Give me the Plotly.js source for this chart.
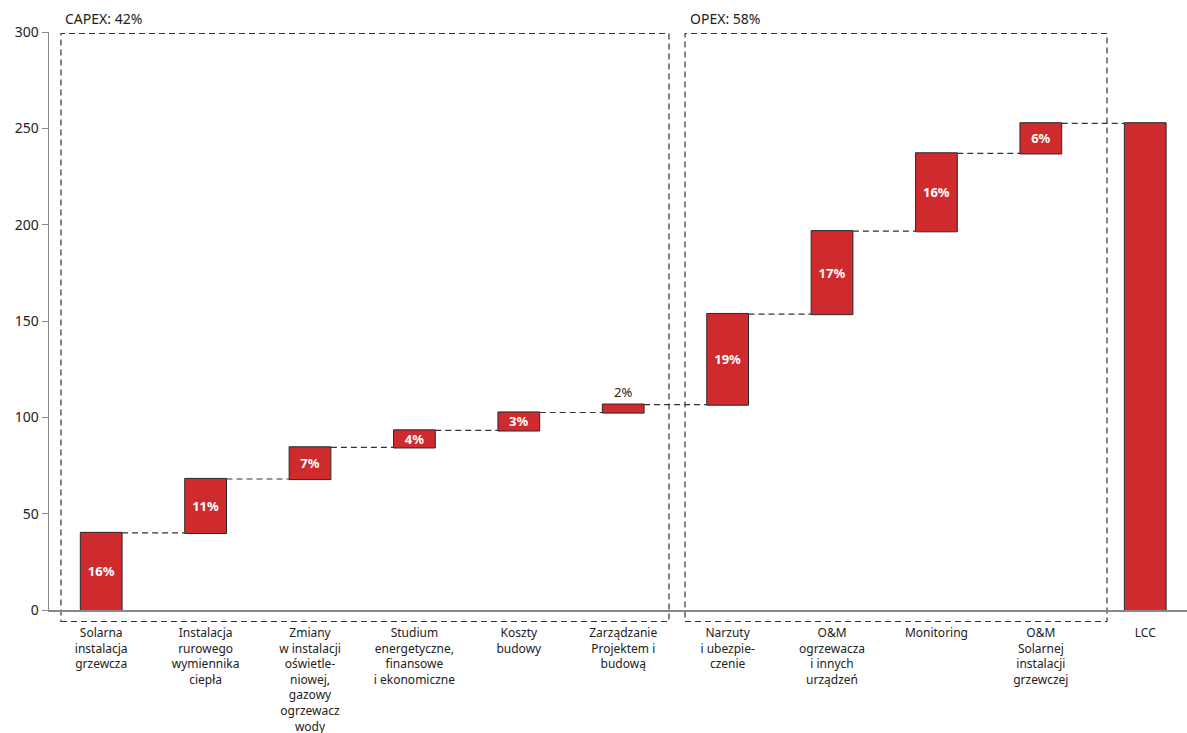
<!DOCTYPE html>
<html><head><meta charset="utf-8">
<script src="https://cdn.plot.ly/plotly-3.0.1.min.js"></script>
<style>body{margin:0;background:#fff}#chart{width:1187px;height:733px}</style>
</head><body><div id="chart"></div>
<script>
const categories = [
  'Solarna<br>instalacja<br>grzewcza',
  'Instalacja<br>rurowego<br>wymiennika<br>ciepła',
  'Zmiany<br>w instalacji<br>oświetle-<br>niowej,<br>gazowy<br>ogrzewacz<br>wody',
  'Studium<br>energetyczne,<br>finansowe<br>i ekonomiczne',
  'Koszty<br>budowy',
  'Zarządzanie<br>Projektem i<br>budową',
  'Narzuty<br>i ubezpie-<br>czenie',
  'O&M<br>ogrzewacza<br>i innych<br>urządzeń',
  'Monitoring',
  'O&M<br>Solarnej<br>instalacji<br>grzewczej',
  'LCC'
];
const values = [40, 28, 16.4, 8.8, 9.3, 4.1, 47, 43, 40.4, 15.6, 0];
const measures = ['relative','relative','relative','relative','relative','relative','relative','relative','relative','relative','total'];
const labels = ['16%','11%','7%','4%','3%','2%','19%','17%','16%','6%',''];
const labelPos = ['inside','inside','inside','inside','inside','outside','inside','inside','inside','inside','none'];
const groupTitles = ['CAPEX: 42%', 'OPEX: 58%'];

const font = 'Noto Sans, Open Sans, sans-serif';
const red = '#cf2a2e';
const edge = '#2a2a2a';

const trace = {
  type: 'waterfall',
  x: categories.map((c,i)=>i),
  y: values,
  measure: measures,
  text: labels,
  textposition: labelPos,
  insidetextfont: {color:'#ffffff', size:13, family:font, weight:'bold'},
  outsidetextfont: {color:'#222', size:13, family:font},
  constraintext: 'none',
  insidetextanchor: 'middle',
  width: 0.4,
  increasing: {marker: {color: red, line: {color: edge, width: 1}}},
  totals: {marker: {color: red, line: {color: edge, width: 1}}},
  connector: {mode: 'between', line: {color: '#333', width: 1.2, dash: '6px,4px'}},
  hoverinfo: 'skip',
  cliponaxis: false
};

const dash = {color:'#333', width:1.2, dash:'6px,4px'};
const layout = {
  width: 1187, height: 733,
  margin: {l: 49, r: 0, t: 31.5, b: 122.5},
  paper_bgcolor: '#fff', plot_bgcolor: '#fff',
  showlegend: false,
  font: {family: font, size: 13, color: '#222'},
  xaxis: {
    range: [-0.5, 10.4],
    tickmode: 'array', tickvals: categories.map((c,i)=>i), ticktext: categories,
    showline: true, linecolor: '#888', linewidth: 1.5,
    ticks: '', showgrid: false, zeroline: false,
    ticklabelstandoff: 11,
    tickfont: {family: font, size: 12, color: '#222'},
    fixedrange: true
  },
  yaxis: {
    range: [0, 300], tickvals: [0,50,100,150,200,250,300],
    showline: true, linecolor: '#888', linewidth: 1.5,
    ticks: 'outside', ticklen: 6, tickcolor: '#888', tickwidth: 1,
    showgrid: false, zeroline: false,
    tickfont: {family: font, size: 14, color: '#222'},
    fixedrange: true
  },
  shapes: [
    {type:'rect', xref:'paper', yref:'paper', x0:0.0105, x1:0.5448, y0:-0.0199, y1:0.9974, line:dash, layer:'below'},
    {type:'rect', xref:'paper', yref:'paper', x0:0.5589, x1:0.9297, y0:-0.0199, y1:0.9974, line:dash, layer:'below'}
  ],
  annotations: [
    {xref:'paper', yref:'paper', x:0.0123, y:1.0, xanchor:'left', yanchor:'bottom', yshift:2, text:groupTitles[0], showarrow:false, font:{family:font, size:14, color:'#222'}},
    {xref:'paper', yref:'paper', x:0.5615, y:1.0, xanchor:'left', yanchor:'bottom', yshift:2, text:groupTitles[1], showarrow:false, font:{family:font, size:14, color:'#222'}}
  ]
};
Plotly.newPlot('chart', [trace], layout, {displayModeBar:false, staticPlot:true});
</script>
</body></html>
